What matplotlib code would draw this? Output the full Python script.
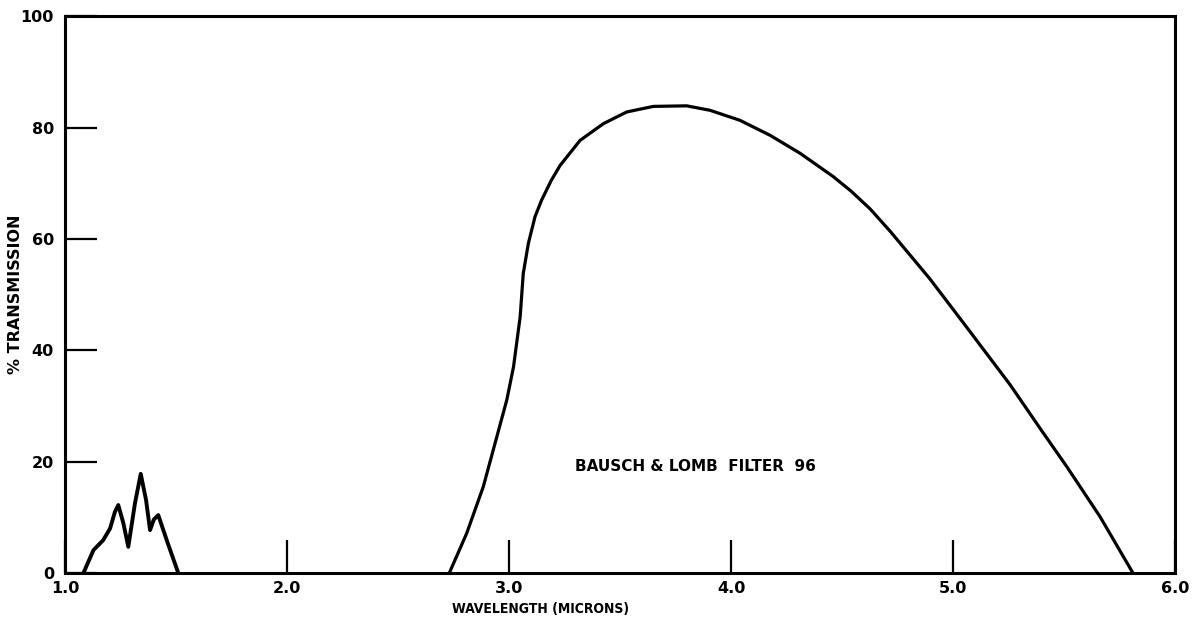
import matplotlib.pyplot as plt

# low-wavelength leak band (microns, % transmission)
leak_wl = [1.083, 1.128, 1.172, 1.203, 1.225, 1.24, 1.263, 1.285, 1.315, 1.341,
           1.365, 1.383, 1.40, 1.42, 1.458, 1.51]
leak_t = [0.0, 4.1, 5.9, 8.0, 11.0, 12.2, 8.9, 4.7, 12.5, 17.8,
          13.1, 7.7, 9.6, 10.4, 5.9, 0.0]

# main pass band
band_wl = [2.731, 2.809, 2.884, 2.937, 2.99, 3.02, 3.05, 3.064, 3.087, 3.117,
           3.147, 3.19, 3.23, 3.32, 3.425, 3.53, 3.65, 3.80, 3.905, 4.04,
           4.176, 4.31, 4.46, 4.54, 4.626, 4.716, 4.896, 5.06, 5.257, 5.40,
           5.512, 5.662, 5.81]
band_t = [0.0, 7.1, 15.5, 23.3, 31.1, 37.0, 46.0, 53.8, 59.2, 64.0,
          67.0, 70.5, 73.2, 77.7, 80.7, 82.8, 83.8, 83.9, 83.1, 81.3,
          78.6, 75.4, 71.2, 68.6, 65.4, 61.4, 52.8, 44.2, 33.8, 25.5,
          19.1, 10.1, 0.0]

x_ticks = [1.0, 2.0, 3.0, 4.0, 5.0, 6.0]
x_labels = ['1.0', '2.0', '3.0', '4.0', '5.0', '6.0']
y_ticks = [0, 20, 40, 60, 80, 100]
y_labels = ['0', '20', '40', '60', '80', '100']

plt.rcParams['font.family'] = 'DejaVu Sans'
plt.rcParams['font.weight'] = 'bold'

fig = plt.figure(figsize=(11.93, 6.23), dpi=100)
ax = fig.add_axes([0.0545, 0.0803, 0.985 - 0.0545, 0.974 - 0.0803])

ax.plot(leak_wl, leak_t, color='black', lw=2.8, solid_joinstyle='round')
ax.plot(band_wl, band_t, color='black', lw=2.3, solid_joinstyle='round')

ax.set_xlim(1.0, 6.0)
ax.set_ylim(0, 100)
ax.set_xticks(x_ticks)
ax.set_xticklabels(x_labels, fontsize=11.5, fontweight='bold')
ax.set_yticks(y_ticks)
ax.set_yticklabels(y_labels, fontsize=11.5, fontweight='bold')
ax.tick_params(axis='x', direction='in', length=24, width=1.6, pad=6)
ax.tick_params(axis='y', direction='in', length=23, width=1.6, pad=8)

for s in ax.spines.values():
    s.set_linewidth(2.2)

ax.set_xlabel('WAVELENGTH (MICRONS)', fontsize=10, fontweight='bold',
              fontstretch='condensed')
ax.xaxis.set_label_coords(0.428, -0.052)
ax.set_ylabel('% TRANSMISSION', fontsize=11.5, fontweight='bold')
ax.yaxis.set_label_coords(-0.038, 0.5)

ax.text(3.297, 19.2, 'BAUSCH & LOMB  FILTER  96', fontsize=11, fontweight='bold',
        ha='left', va='center')

plt.savefig('out.png', dpi=100)
